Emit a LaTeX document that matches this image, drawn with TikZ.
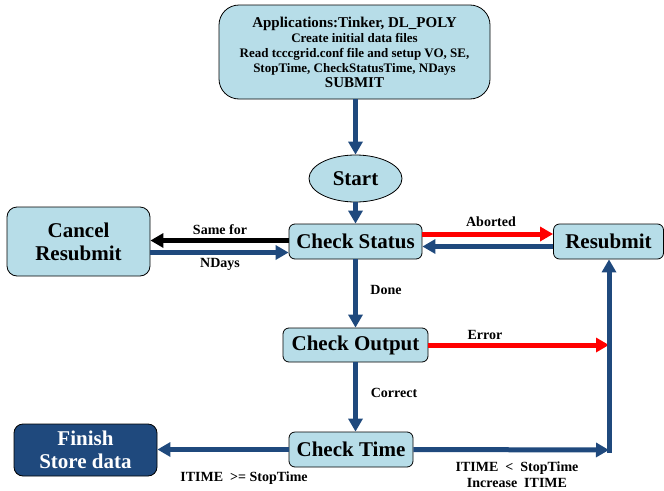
\documentclass[tikz,border=0pt]{standalone}
\usepackage{fontspec}
\setmainfont{Liberation Serif}
\usetikzlibrary{arrows.meta,shapes.geometric}
\definecolor{boxfill}{RGB}{183,221,232}
\definecolor{navy}{RGB}{31,73,125}
\definecolor{redline}{RGB}{255,0,0}
\begin{document}
\begin{tikzpicture}[x=1pt,y=-1pt,
  box/.style={draw=black, line width=0.8pt, fill=boxfill, rounded corners=6pt, inner sep=0pt, align=center, font=\fontsize{21}{23}\selectfont\bfseries},
  flow/.style={draw=navy, line width=5pt, -{Triangle[length=13pt,width=14pt]}},
  redflow/.style={draw=redline, line width=5pt, -{Triangle[length=13pt,width=14pt]}},
  blackflow/.style={draw=black, line width=5pt, -{Triangle[length=13pt,width=14pt]}},
  lbl/.style={font=\fontsize{14}{16}\selectfont\bfseries, inner sep=0pt, align=center},
]
\useasboundingbox (0,0) rectangle (664,490);

\node[box, rounded corners=20pt, minimum width=271pt, minimum height=94pt, font=\fontsize{13}{15}\selectfont\bfseries] (app) at (354.5,52)
  {{\fontsize{15}{15}\selectfont Applications:Tinker, DL\_POLY}\\Create initial data files\\Read tcccgrid.conf file and setup VO, SE,\\StopTime, CheckStatusTime, NDays\\{\fontsize{15}{15}\selectfont SUBMIT}};
\node[box, ellipse, minimum width=93pt, minimum height=47pt] (start) at (355.5,178.5) {Start};
\node[box, minimum width=133pt, minimum height=35pt] (cs) at (355.5,241.5) {Check Status};
\node[box, minimum width=110pt, minimum height=35pt] (resub) at (608.5,241.5) {Resubmit};
\node[box, rounded corners=10pt, minimum width=143pt, minimum height=69pt] (cancel) at (78.5,241.5) {Cancel\\Resubmit};
\node[box, minimum width=145pt, minimum height=34pt] (co) at (355.5,345) {Check Output};
\node[box, minimum width=124pt, minimum height=35pt] (ct) at (351,449.5) {Check Time};
\node[box, fill=navy, text=white, rounded corners=9pt, minimum width=143pt, minimum height=52pt] (fin) at (85.5,450) {Finish\\Store data};

\coordinate (rx) at (609,345);
\coordinate (corner) at (609,450);

\draw[flow] (start.north |- app.south) -- (start.north);
\draw[flow] (start.south) -- (cs.north);
\draw[blackflow] (cs.west |- 0,240.5) -- (cancel.east |- 0,240.5);
\draw[flow] (cancel.east |- 0,252.5) -- (cs.west |- 0,252.5);
\draw[redflow] (cs.east |- 0,234) -- (resub.west |- 0,234);
\draw[flow] (resub.west |- 0,246.5) -- (cs.east |- 0,246.5);
\draw[flow] (cs.south) -- (co.north);
\draw[redflow] (co.east) -- (rx);
\draw[flow] (co.south) -- (co.south |- ct.north);
\draw[flow] (ct.west) -- (ct.west -| fin.east);
\draw[flow] (ct.east) -- (corner);
\draw[flow, line cap=rect] (corner) -- (corner |- resub.south);

\node[lbl] (l1) at (220,230) {Same for};
\node[lbl] (l2) at (220,264) {NDays};
\node[lbl] (l3) at (491,222) {Aborted};
\node[lbl] (l4) at (386,290) {Done};
\node[lbl] (l5) at (485,335) {Error};
\node[lbl] (l6) at (394,393) {Correct};
\node[lbl] (l7) at (244,478) {ITIME\ \ >= StopTime};
\node[lbl] (l8) at (517,474.5) {ITIME\ \ <\ \ StopTime\\Increase\ \ ITIME};
\end{tikzpicture}
\end{document}
